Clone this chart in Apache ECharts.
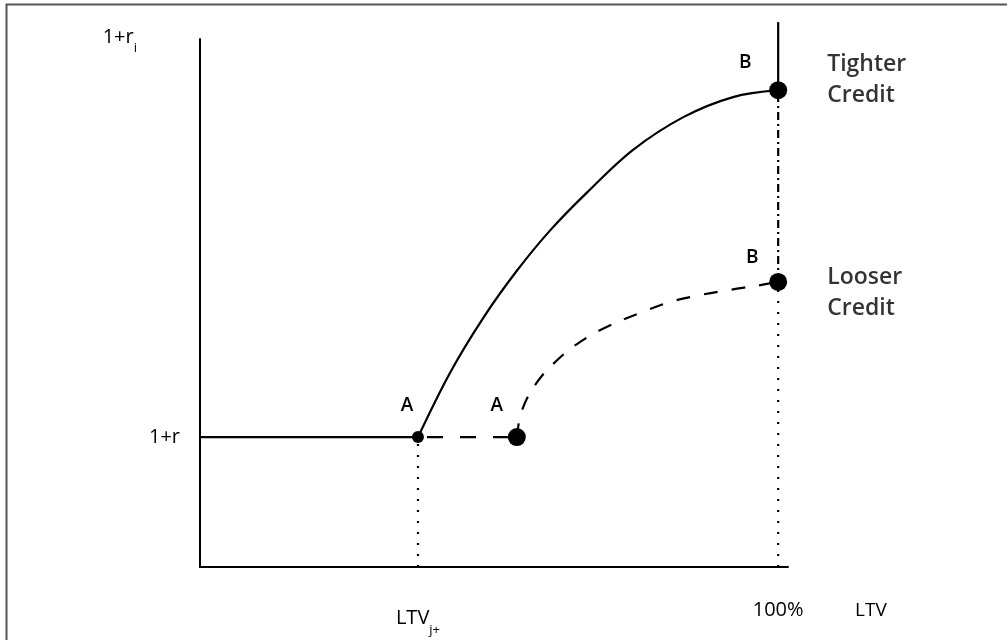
<!DOCTYPE html>
<html>
<head>
<meta charset="utf-8">
<script src="https://cdn.jsdelivr.net/npm/echarts@6/dist/echarts.min.js"></script>
<style>html,body{margin:0;padding:0;background:#fff}#c{width:1007px;height:640px}</style>
</head>
<body>
<div id="c"></div>
<script>
// ---- data ----
const ltvJ = 37.7;        // LTV_j+ (point A, tighter credit)
const ltvA2 = 54.8;       // point A, looser credit
const ltvMax = 100;       // 100% LTV
const rBase = 24.6;       // 1+r
const rTightB = 90.3;     // point B, tighter credit
const rLooseB = 54.0;     // point B, looser credit
const rTop = 103.2;       // top of the vertical at 100%

const tighterCurve = [[37.7,24.6],[43.3,36.9],[49.0,47.2],[54.8,56.1],[60.6,63.8],[67.0,71.0],[74.9,79.0],[83.6,85.2],[92.2,89.0],[100,90.3]];
const looserCurve = [[54.8,24.6],[55.7,29.7],[58.3,35.0],[61.8,39.2],[65.7,42.6],[70.4,45.5],[76.1,48.1],[81.3,50.2],[86.5,51.5],[91.7,52.5],[96.4,53.3],[100,54.0]];

const xTickValues = [ltvJ, ltvMax];
const xTickLabels = ['{m|LTV}{s|j+}', '{m|100%}'];
const yTickValues = [rBase];
const yTickLabels = ['1+r'];
const pointLabels = ['A', 'A', 'B', 'B'];
const curveNames = ['Tighter\nCredit', 'Looser\nCredit'];

// ---- chart ----
const chart = echarts.init(document.getElementById('c'));
const FONT = 'Open Sans';
const black = '#000';
const lineW = 2.2;

function seg(data, type, extra) {
  return Object.assign({
    type: 'line', data: data, symbol: 'none', silent: true,
    lineStyle: { color: black, width: lineW, type: type }
  }, extra || {});
}

const points = [
  { value: [ltvJ, rBase], symbolSize: 12, label: { offset: [-11, -32] } },
  { value: [ltvA2, rBase], symbolSize: 18, label: { offset: [-20, -32] } },
  { value: [ltvMax, rTightB], symbolSize: 18, label: { offset: [-33, -28] } },
  { value: [ltvMax, rLooseB], symbolSize: 18, label: { offset: [-26, -24] } }
].map((p, i) => Object.assign(p, { name: pointLabels[i] }));

const nameMarks = [
  { value: [ltvMax, rTightB], name: curveNames[0], label: { offset: [49, -10] } },
  { value: [ltvMax, rLooseB], name: curveNames[1], label: { offset: [49, 11] } }
];

chart.setOption({
  animation: false,
  backgroundColor: '#fff',
  textStyle: { fontFamily: FONT, color: black },
  grid: { left: 200, right: 219, top: 39, bottom: 73 },
  xAxis: {
    type: 'value', min: 0, max: 101.7,
    axisLine: { show: true, lineStyle: { color: black, width: 2 } },
    axisTick: { show: false }, splitLine: { show: false },
    axisLabel: {
      customValues: xTickValues, margin: 33,
      formatter: (v) => xTickLabels[xTickValues.indexOf(v)] || '',
      rich: {
        m: { fontSize: 20, fontFamily: FONT, color: black },
        s: { fontSize: 13, fontFamily: FONT, color: black, padding: [24, 0, 0, 0] }
      }
    },
    name: 'LTV', nameLocation: 'end', nameGap: 67,
    nameTextStyle: { fontSize: 19, fontFamily: FONT, color: black, verticalAlign: 'top', padding: [34, 0, 0, 0] }
  },
  yAxis: {
    type: 'value', min: 0, max: 100,
    axisLine: { show: true, lineStyle: { color: black, width: 2 } },
    axisTick: { show: false }, splitLine: { show: false },
    axisLabel: {
      customValues: yTickValues, margin: 20,
      formatter: (v) => yTickLabels[yTickValues.indexOf(v)] || '',
      fontSize: 20, fontFamily: FONT, color: black
    },
    name: '{m|1+r}{s|i}', nameLocation: 'end', nameGap: -16,
    nameTextStyle: {
      align: 'right', padding: [0, 63, 0, 0],
      rich: {
        m: { fontSize: 20, fontFamily: FONT, color: black },
        s: { fontSize: 13, fontFamily: FONT, color: black, padding: [22, 0, 0, 0] }
      }
    }
  },
  graphic: [{
    type: 'polyline', silent: true,
    shape: { points: [[6.5, 640], [6.5, 4.5], [1007, 4.5]] },
    style: { stroke: '#555', lineWidth: 2, fill: null }
  }],
  series: [
    seg([[0, rBase], [ltvJ, rBase]], 'solid'),
    seg(tighterCurve, 'solid', { smooth: 0.35 }),
    seg([[ltvJ, rBase], [ltvA2, rBase]], [16, 17], { lineStyle: { color: black, width: lineW, type: [16, 17], dashOffset: -9 } }),
    seg(looserCurve, [14, 14], { smooth: 0.4 }),
    seg([[ltvMax, rTightB], [ltvMax, rTop]], 'solid', { clip: false }),
    seg([[ltvMax, rLooseB], [ltvMax, rTightB]], [8, 4, 2, 4]),
    seg([[ltvMax, 0], [ltvMax, rLooseB]], [2, 9]),
    seg([[ltvJ, 0], [ltvJ, rBase]], [2, 9]),
    {
      type: 'scatter', data: points, symbol: 'circle', silent: true,
      itemStyle: { color: black, opacity: 1 },
      label: { show: true, position: 'inside', formatter: '{b}', fontSize: 19, fontWeight: 600, fontFamily: FONT, color: black },
      z: 5
    },
    {
      type: 'scatter', data: nameMarks, symbolSize: 0, silent: true,
      label: { show: true, position: 'inside', align: 'left', verticalAlign: 'middle', formatter: '{b}', fontSize: 23, fontWeight: 600, lineHeight: 31, fontFamily: FONT, color: black },
      z: 6
    }
  ]
});
</script>
</body>
</html>
